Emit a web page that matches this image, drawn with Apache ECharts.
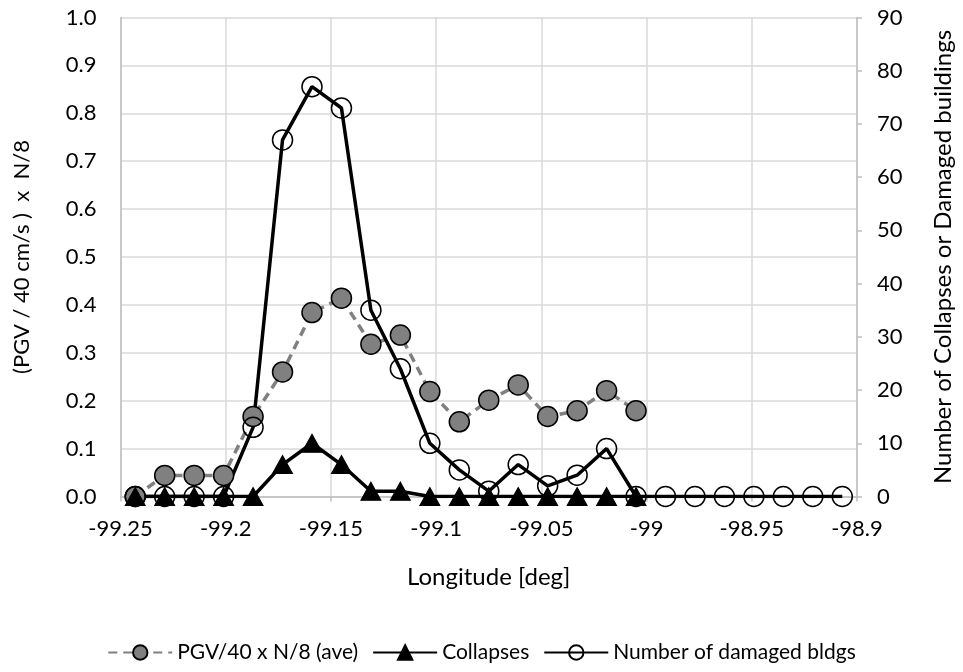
<!DOCTYPE html>
<html><head><meta charset="utf-8">
<script src="https://cdn.jsdelivr.net/npm/echarts@6/dist/echarts.min.js"></script>
<style>html,body{margin:0;padding:0;background:#fff}#c{width:963px;height:672px}</style>
</head><body><div id="c"></div>
<script>
const longitudes = [-99.243,-99.229,-99.215,-99.201,-99.187,-99.173,-99.159,-99.145,-99.131,-99.117,-99.103,-99.089,-99.075,-99.061,-99.047,-99.033,-99.019,-99.005,-98.991,-98.977,-98.963,-98.949,-98.935,-98.921,-98.907];
const pgvValues = [0.0,0.044,0.044,0.044,0.167,0.26,0.384,0.414,0.318,0.337,0.219,0.156,0.201,0.233,0.167,0.179,0.221,0.179];
const collapseValues = [0,0,0,0,0,6,10,6,1,1,0,0,0,0,0,0,0,0];
const damagedValues = [0,0,0,0,13,67,77,73,35,24,10,5,1,6,2,4,9,0,0,0,0,0,0,0,0];
const seriesNames = ['PGV/40 x N/8 (ave)','Collapses','Number of damaged bldgs'];

const pair = (vals) => vals.map((v,i)=>[longitudes[i], v]);
const FONT = 'Lato';
const TXT = '#000';
const chart = echarts.init(document.getElementById('c'), null, {renderer:'canvas'});
chart.setOption({
  animation:false,
  textStyle:{fontFamily:FONT,color:TXT},
  grid:{left:120.5,right:102,top:17.5,bottom:175.5},
  legend:{
    bottom:4, left:'center', itemWidth:64, itemHeight:18, itemGap:14,
    textStyle:{fontFamily:FONT,fontSize:21,color:TXT},
    data:seriesNames
  },
  xAxis:{
    type:'value', min:-99.25, max:-98.9, interval:0.05,
    name:'Longitude [deg]', nameLocation:'middle', nameGap:69,
    nameTextStyle:{fontFamily:FONT,fontSize:24,color:TXT},
    axisLine:{lineStyle:{color:'#bfbfbf',width:1.5}},
    axisTick:{show:true,length:5,lineStyle:{color:'#bfbfbf',width:1.5}},
    splitLine:{lineStyle:{color:'#d9d9d9',width:1.5}},
    axisLabel:{fontFamily:FONT,fontSize:22,color:TXT,margin:21,formatter:v=>String(parseFloat(v.toFixed(2)))}
  },
  yAxis:[{
    type:'value', min:0, max:1, interval:0.1, position:'left',
    name:'(PGV / 40 cm/s )  x  N/8', nameLocation:'middle', nameRotate:90, nameGap:88,
    nameTextStyle:{fontFamily:FONT,fontSize:22,color:TXT},
    axisLine:{show:true,lineStyle:{color:'#bfbfbf',width:1.5}},
    axisTick:{show:false},
    splitLine:{lineStyle:{color:'#d9d9d9',width:1.5}},
    axisLabel:{fontFamily:FONT,fontSize:22,color:TXT,margin:24,formatter:v=>v.toFixed(1)}
  },{
    type:'value', min:0, max:90, interval:10, position:'right',
    name:'Number of Collapses or Damaged buildings', nameLocation:'middle', nameRotate:90, nameGap:74,
    nameTextStyle:{fontFamily:FONT,fontSize:24,color:TXT},
    axisLine:{show:true,lineStyle:{color:'#bfbfbf',width:1.5}},
    axisTick:{show:true,length:5,lineStyle:{color:'#bfbfbf',width:1.5}},
    splitLine:{show:false},
    axisLabel:{fontFamily:FONT,fontSize:22,color:TXT,margin:20}
  }],
  series:[{
    name:seriesNames[0], type:'line', yAxisIndex:0, data:pair(pgvValues),
    symbol:'circle', symbolSize:20,
    lineStyle:{color:'#808080',width:3.5,type:[9,6]},
    itemStyle:{color:'#808080',borderColor:'#000',borderWidth:1.5}
  },{
    name:seriesNames[1], type:'line', yAxisIndex:1, data:pair(collapseValues),
    symbol:'triangle', symbolSize:[20,18],
    lineStyle:{color:'#000',width:3.5},
    itemStyle:{color:'#000',borderColor:'#000',borderWidth:1}
  },{
    name:seriesNames[2], type:'line', yAxisIndex:1, data:pair(damagedValues),
    symbol:'circle', symbolSize:20,
    lineStyle:{color:'#000',width:3.5},
    itemStyle:{color:'rgba(0,0,0,0)',borderColor:'#000',borderWidth:1.5}
  }]
});
</script></body></html>
